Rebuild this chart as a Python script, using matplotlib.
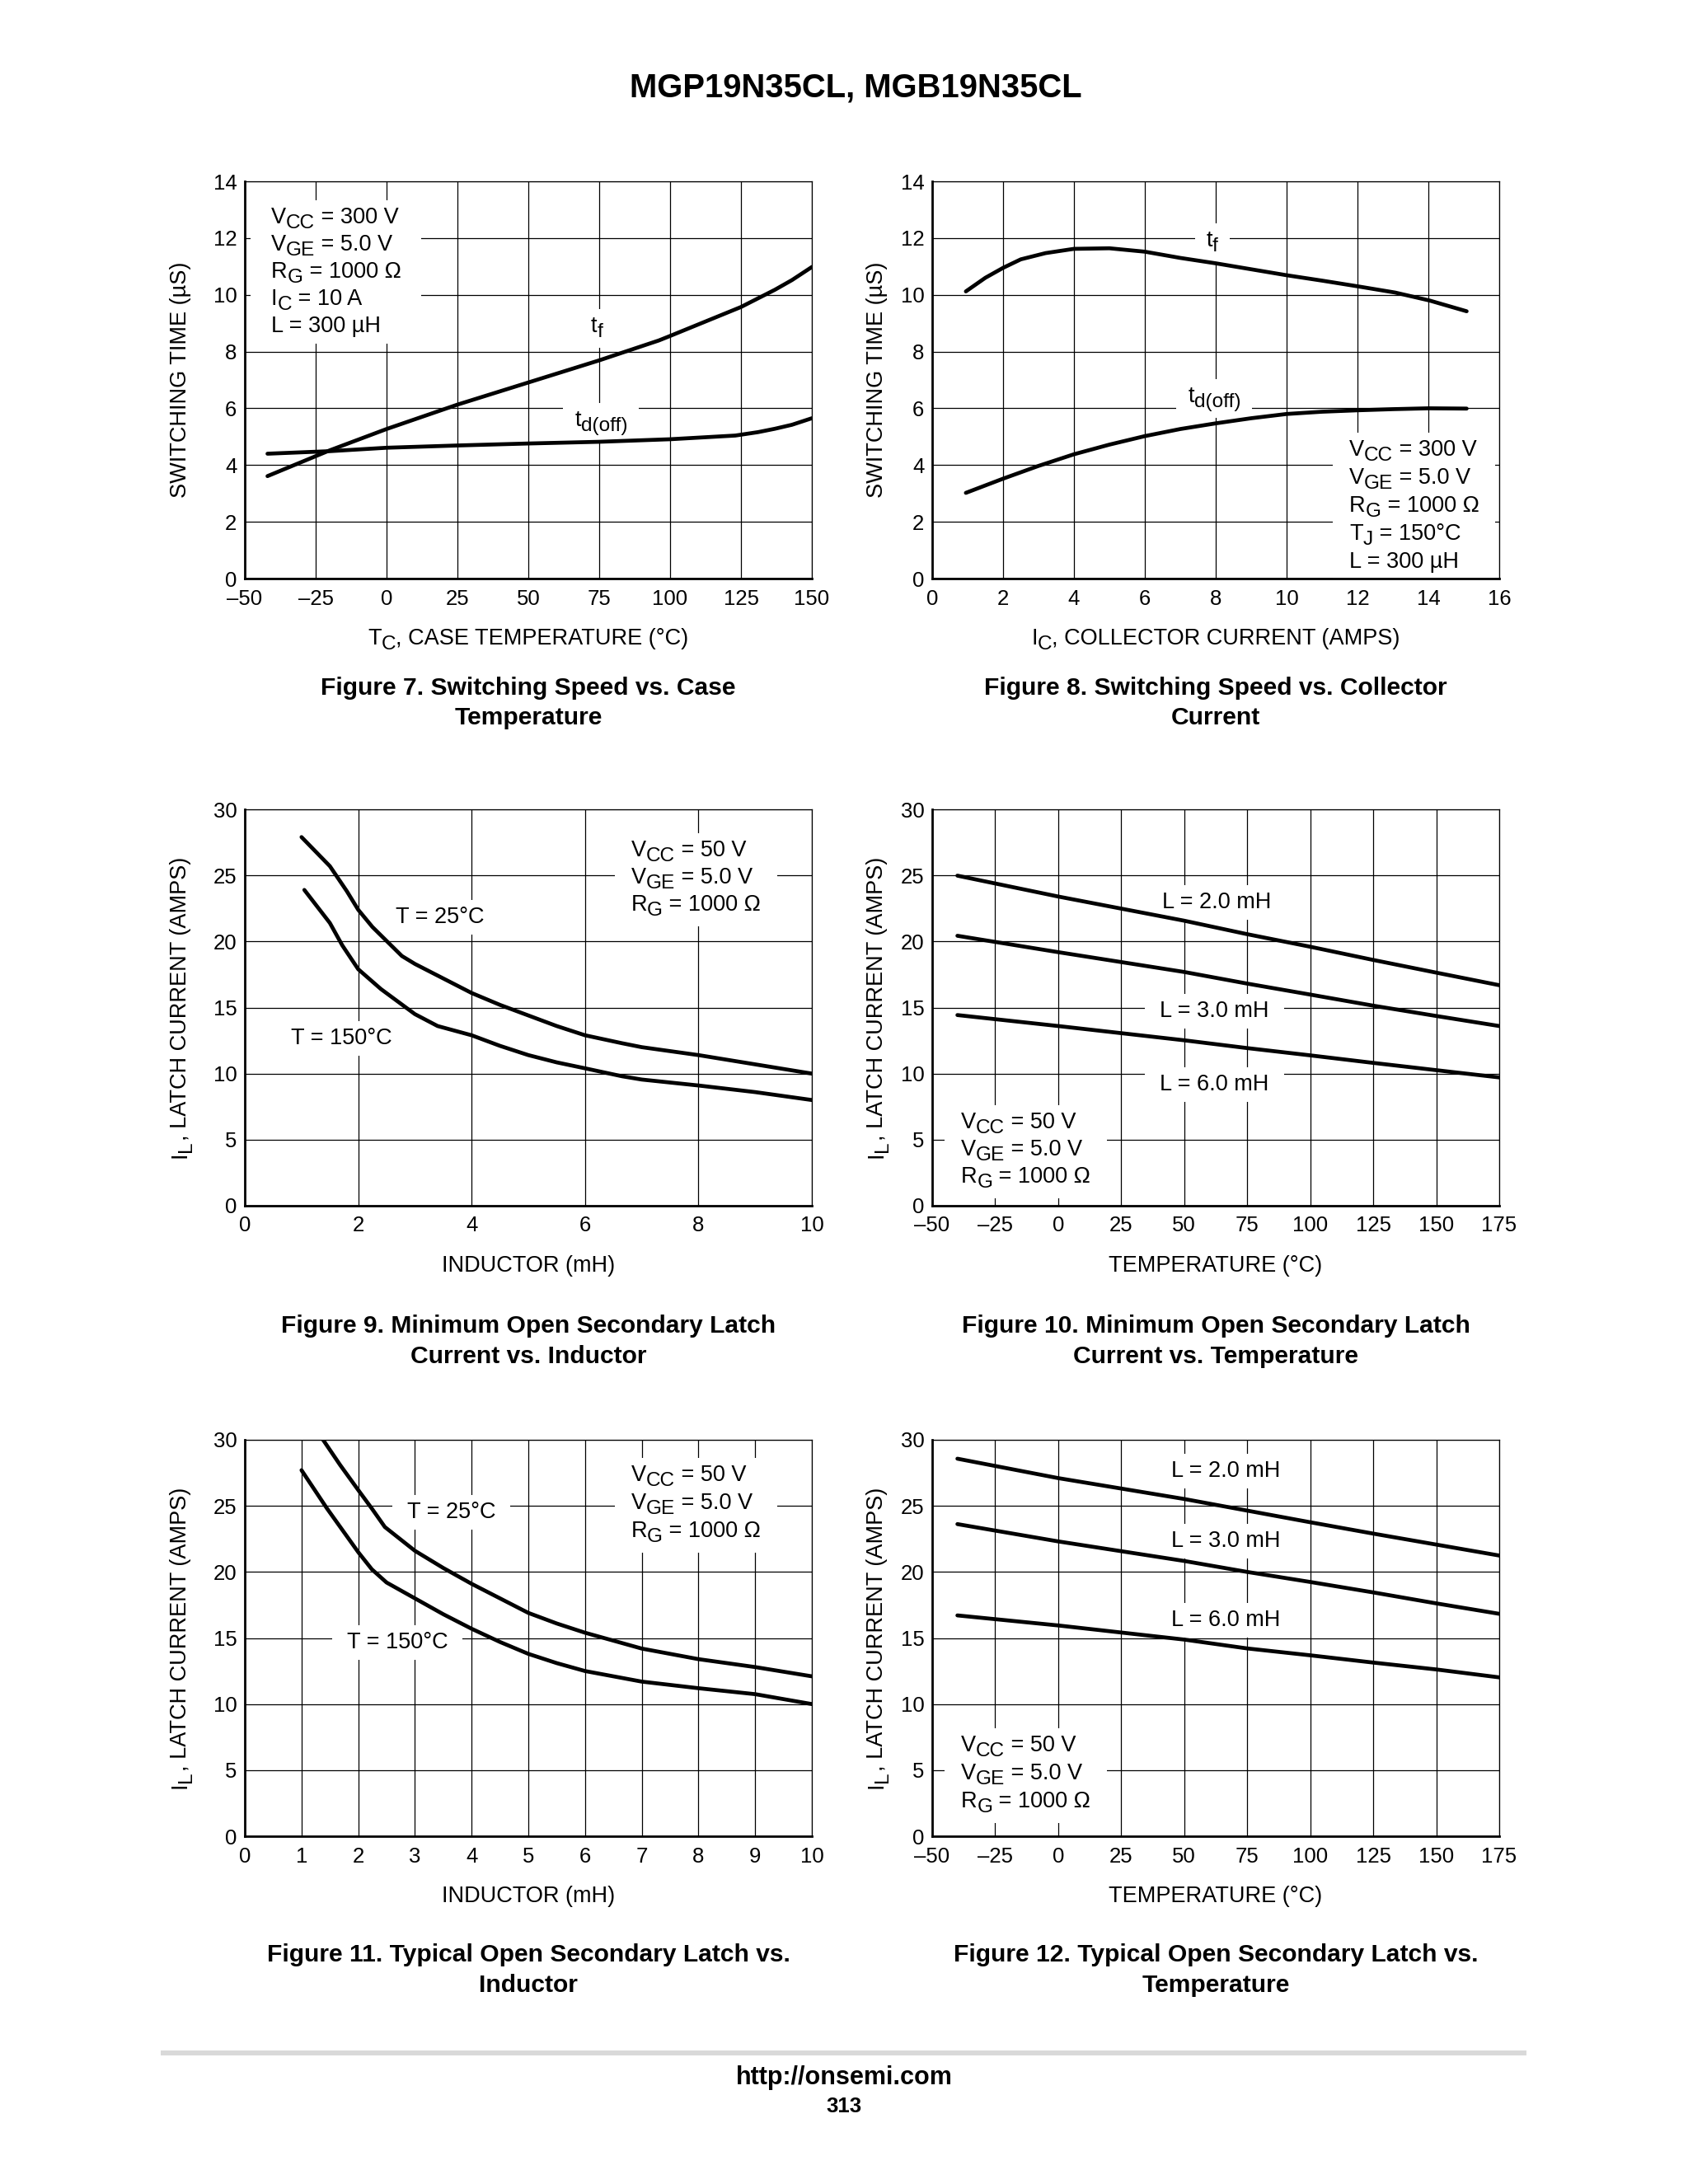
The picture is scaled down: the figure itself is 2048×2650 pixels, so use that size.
import matplotlib
matplotlib.use("Agg")
import matplotlib.pyplot as plt
from matplotlib.transforms import IdentityTransform
from matplotlib.patches import Rectangle
from matplotlib.lines import Line2D

plt.rcParams['font.family'] = ['Liberation Sans', 'DejaVu Sans']
plt.rcParams['mathtext.default'] = 'regular'

# ------------------------------------------------------------------ data
# Figure 7 : switching time vs case temperature
fig7_tf_x = [-42, -20, 0, 25, 50, 75, 96, 100, 125, 137, 143, 150]
fig7_tf_y = [3.61, 4.52, 5.27, 6.13, 6.91, 7.69, 8.39, 8.55, 9.57, 10.18, 10.52, 10.98]
fig7_td_x = [-42, -20, 0, 25, 50, 75, 100, 123, 131, 137, 143, 150]
fig7_td_y = [4.40, 4.49, 4.61, 4.69, 4.76, 4.82, 4.91, 5.04, 5.16, 5.28, 5.42, 5.65]

# Figure 8 : switching time vs collector current
fig8_tf_x = [0.95, 1.5, 2.0, 2.5, 3.2, 4.0, 5.0, 6.0, 7.0, 8.0, 9.0, 10.0, 11.0, 12.0, 13.06, 14.03, 15.08]
fig8_tf_y = [10.12, 10.6, 10.95, 11.25, 11.47, 11.62, 11.64, 11.52, 11.3, 11.11, 10.9, 10.69, 10.5, 10.3, 10.08, 9.8, 9.42]
fig8_td_x = [0.95, 2.0, 3.0, 4.0, 5.0, 6.0, 7.0, 8.0, 9.0, 10.0, 11.0, 12.0, 13.0, 14.0, 15.08]
fig8_td_y = [3.02, 3.52, 3.97, 4.38, 4.72, 5.02, 5.27, 5.47, 5.65, 5.8, 5.88, 5.93, 5.97, 6.0, 5.99]

# Figure 9 : minimum latch current vs inductor
fig9_t25_x = [1.0, 1.5, 1.8, 2.0, 2.25, 2.77, 3.0, 3.5, 4.0, 4.5, 5.0, 5.5, 6.0, 6.65, 7.0, 8.0, 9.0, 10.0]
fig9_t25_y = [27.9, 25.7, 23.8, 22.4, 21.1, 18.9, 18.3, 17.2, 16.1, 15.2, 14.4, 13.6, 12.9, 12.3, 12.0, 11.4, 10.7, 10.0]
fig9_t150_x = [1.05, 1.5, 1.72, 2.0, 2.4, 3.0, 3.4, 4.0, 4.5, 5.0, 5.5, 6.0, 6.65, 7.0, 8.0, 9.0, 10.0]
fig9_t150_y = [23.9, 21.4, 19.7, 17.9, 16.4, 14.5, 13.6, 12.9, 12.1, 11.4, 10.85, 10.4, 9.8, 9.55, 9.1, 8.6, 8.0]

# Figure 10 : minimum latch current vs temperature
fig10_x = [-40, 0, 50, 75, 100, 125, 150, 175]
fig10_l2 = [24.98, 23.4, 21.57, 20.55, 19.6, 18.6, 17.64, 16.69]
fig10_l3 = [20.43, 19.19, 17.69, 16.81, 15.98, 15.14, 14.36, 13.6]
fig10_l6 = [14.43, 13.6, 12.52, 11.93, 11.38, 10.81, 10.26, 9.71]

# Figure 11 : typical latch current vs inductor
fig11_t25_x = [1.38, 1.68, 2.0, 2.24, 2.47, 3.0, 3.5, 4.0, 4.5, 5.0, 5.5, 6.0, 7.0, 8.0, 9.0, 10.0]
fig11_t25_y = [30.0, 28.1, 26.2, 24.8, 23.4, 21.6, 20.3, 19.1, 18.0, 16.9, 16.1, 15.4, 14.2, 13.4, 12.8, 12.1]
fig11_t150_x = [1.0, 1.45, 2.0, 2.24, 2.5, 3.0, 3.5, 4.0, 4.5, 5.0, 5.5, 6.0, 7.0, 8.0, 9.0, 10.0]
fig11_t150_y = [27.7, 24.8, 21.5, 20.2, 19.2, 18.0, 16.8, 15.7, 14.7, 13.8, 13.1, 12.5, 11.7, 11.2, 10.75, 10.0]

# Figure 12 : typical latch current vs temperature
fig12_x = [-40, 0, 50, 75, 100, 125, 150, 175]
fig12_l2 = [28.57, 27.1, 25.52, 24.64, 23.76, 22.9, 22.07, 21.24]
fig12_l3 = [23.62, 22.31, 20.83, 20.0, 19.24, 18.45, 17.62, 16.83]
fig12_l6 = [16.71, 15.95, 14.88, 14.21, 13.69, 13.14, 12.62, 12.02]

# axis ticks
temp_ticks_a = [-50, -25, 0, 25, 50, 75, 100, 125, 150]
temp_ticks_b = [-50, -25, 0, 25, 50, 75, 100, 125, 150, 175]
ic_ticks = [0, 2, 4, 6, 8, 10, 12, 14, 16]
ind_ticks_a = [0, 2, 4, 6, 8, 10]
ind_ticks_b = [0, 1, 2, 3, 4, 5, 6, 7, 8, 9, 10]
time_ticks = [0, 2, 4, 6, 8, 10, 12, 14]
cur_ticks = [0, 5, 10, 15, 20, 25, 30]

title_text = "MGP19N35CL, MGB19N35CL"
captions = [
    ("Figure 7. Switching Speed vs. Case", "Temperature"),
    ("Figure 8. Switching Speed vs. Collector", "Current"),
    ("Figure 9. Minimum Open Secondary Latch", "Current vs. Inductor"),
    ("Figure 10. Minimum Open Secondary Latch", "Current vs. Temperature"),
    ("Figure 11. Typical Open Secondary Latch vs.", "Inductor"),
    ("Figure 12. Typical Open Secondary Latch vs.", "Temperature"),
]

# ------------------------------------------------------------------ setup
W, H, DPI = 2048, 2650, 100
fig = plt.figure(figsize=(W / DPI, H / DPI), dpi=DPI)
fig.patch.set_facecolor('white')
R = fig.canvas.get_renderer()
ID = IdentityTransform()


def pt2px(p):
    return p * DPI / 72.0


def tlabel(v):
    return ("\u2013" + str(-v)) if v < 0 else str(v)


_meas = fig.text(0, 0, "", alpha=0)


def measure(s, fs, weight='normal'):
    _meas.set_fontsize(fs)
    _meas.set_fontweight(weight)
    _meas.set_text("|" + s + "|")
    w1 = _meas.get_window_extent(R).width
    _meas.set_text("||")
    w2 = _meas.get_window_extent(R).width
    return w1 - w2


def rich(host, X, Y, parts, size=19, ha='left', rot=0, weight='normal', sub_scale=0.9):
    """X, Y in output pixels (origin bottom-left). Y = centre of capitals."""
    cap = 0.716 * pt2px(size)
    drop = 0.22 * pt2px(size)
    widths = []
    for s, sub in parts:
        fs = size * sub_scale if sub else size
        widths.append(measure(s, fs, weight))
    total = sum(widths)
    cur = -total / 2 if ha == 'center' else 0.0
    texts = []
    for (s, sub), w in zip(parts, widths):
        fs = size * sub_scale if sub else size
        if rot == 0:
            x = X + cur
            y = Y - cap / 2 - (drop if sub else 0)
        else:
            x = X + cap / 2 + (drop if sub else 0)
            y = Y + cur
        t = host.text(x, y, s, fontsize=fs, transform=ID, ha='left', va='baseline',
                      rotation=rot, rotation_mode='anchor', zorder=6,
                      fontweight=weight, color='black')
        texts.append(t)
        cur += w
    return texts


def block(ax, x, y, lines, size=19.5, spacing=33, ha='left', padx=18, pady=8):
    X, Y = ax.transData.transform((x, y))
    allt = []
    for i, parts in enumerate(lines):
        allt += rich(ax, X, Y - i * spacing, parts, size, ha)
    bbs = [t.get_window_extent(R) for t in allt]
    x0 = min(b.x0 for b in bbs) - padx
    x1 = max(b.x1 for b in bbs) + padx
    y0 = min(b.y0 for b in bbs) - pady
    y1 = max(b.y1 for b in bbs) + pady
    ax.add_patch(Rectangle((x0, y0), x1 - x0, y1 - y0, transform=ID,
                           facecolor='white', edgecolor='none', zorder=1))


COLS = [(297, 985), (1131, 1819)]
ROWS = [(220, 702), (982, 1463), (1747, 2228)]
YLAB_X = [216, 1061]


def make_axes(col, row, xlim, xticks, ylim, yticks, xlab, ylab):
    l, r = COLS[col]
    t, b = ROWS[row]
    ax = fig.add_axes([l / W, 1 - b / H, (r - l) / W, (b - t) / H])
    ax.set_xlim(xlim)
    ax.set_ylim(ylim)
    ax.set_xticks(xticks)
    ax.set_xticklabels([tlabel(v) for v in xticks])
    ax.set_yticks(yticks)
    ax.set_yticklabels([tlabel(v) for v in yticks])
    ax.tick_params(length=0, labelsize=18.5, colors='black')
    ax.tick_params(axis='x', pad=9)
    ax.tick_params(axis='y', pad=7)
    ax.grid(True, color='black', lw=0.9)
    ax.set_axisbelow(True)
    for s in ['top', 'right']:
        ax.spines[s].set_linewidth(0.9)
    for s in ['left', 'bottom']:
        ax.spines[s].set_linewidth(2.0)
    # axis titles
    rich(fig, (l + r) / 2, H - (b + 70), xlab, size=19.5, ha='center')
    rich(fig, YLAB_X[col], H - (t + b) / 2, ylab, size=19.5, ha='center', rot=90)
    return ax


def curve(ax, x, y):
    ax.plot(x, y, color='black', lw=3.4, solid_capstyle='round',
            solid_joinstyle='round', zorder=3)


SW = [("SWITCHING TIME (\u00b5S)", 0)]
IL = [("I", 0), ("L", 1), (", LATCH CURRENT (AMPS)", 0)]
TEMP = [("TEMPERATURE (\u00b0C)", 0)]
IND = [("INDUCTOR (mH)", 0)]

# ---------------- Figure 7
ax7 = make_axes(0, 0, (-50, 150), temp_ticks_a, (0, 14), time_ticks,
                [("T", 0), ("C", 1), (", CASE TEMPERATURE (\u00b0C)", 0)], SW)
curve(ax7, fig7_tf_x, fig7_tf_y)
curve(ax7, fig7_td_x, fig7_td_y)
block(ax7, -40.7, 12.81, [
    [("V", 0), ("CC", 1), (" = 300 V", 0)],
    [("V", 0), ("GE", 1), (" = 5.0 V", 0)],
    [("R", 0), ("G", 1), (" = 1000 \u03a9", 0)],
    [("I", 0), ("C", 1), (" = 10 A", 0)],
    [("L = 300 \u00b5H", 0)],
], padx=25)
block(ax7, 74.2, 8.96, [[("t", 0), ("f", 1)]], ha='center', padx=14)
block(ax7, 75.7, 5.65, [[("t", 0), ("d(off)", 1)]], ha='center', padx=14)

# ---------------- Figure 8
ax8 = make_axes(1, 0, (0, 16), ic_ticks, (0, 14), time_ticks,
                [("I", 0), ("C", 1), (", COLLECTOR CURRENT (AMPS)", 0)], SW)
curve(ax8, fig8_tf_x, fig8_tf_y)
curve(ax8, fig8_td_x, fig8_td_y)
block(ax8, 11.77, 4.6, [
    [("V", 0), ("CC", 1), (" = 300 V", 0)],
    [("V", 0), ("GE", 1), (" = 5.0 V", 0)],
    [("R", 0), ("G", 1), (" = 1000 \u03a9", 0)],
    [("T", 0), ("J", 1), (" = 150\u00b0C", 0)],
    [("L = 300 \u00b5H", 0)],
], spacing=34, padx=20)
block(ax8, 7.9, 11.99, [[("t", 0), ("f", 1)]], ha='center', padx=14)
block(ax8, 7.96, 6.49, [[("t", 0), ("d(off)", 1)]], ha='center', padx=14)

COND50 = [
    [("V", 0), ("CC", 1), (" = 50 V", 0)],
    [("V", 0), ("GE", 1), (" = 5.0 V", 0)],
    [("R", 0), ("G", 1), (" = 1000 \u03a9", 0)],
]

# ---------------- Figure 9
ax9 = make_axes(0, 1, (0, 10), ind_ticks_a, (0, 30), cur_ticks, IND, IL)
curve(ax9, fig9_t25_x, fig9_t25_y)
curve(ax9, fig9_t150_x, fig9_t150_y)
block(ax9, 6.81, 27.07, COND50, padx=20)
block(ax9, 3.44, 22.0, [[("T = 25\u00b0C", 0)]], ha='center')
block(ax9, 1.70, 12.8, [[("T = 150\u00b0C", 0)]], ha='center')

# ---------------- Figure 10
ax10 = make_axes(1, 1, (-50, 175), temp_ticks_b, (0, 30), cur_ticks, TEMP, IL)
curve(ax10, fig10_x, fig10_l2)
curve(ax10, fig10_x, fig10_l3)
curve(ax10, fig10_x, fig10_l6)
block(ax10, 63.0, 23.15, [[("L = 2.0 mH", 0)]], ha='center')
block(ax10, 62.0, 14.9, [[("L = 3.0 mH", 0)]], ha='center')
block(ax10, 62.0, 9.34, [[("L = 6.0 mH", 0)]], ha='center')
block(ax10, -38.6, 6.47, COND50, padx=20)

# ---------------- Figure 11
ax11 = make_axes(0, 2, (0, 10), ind_ticks_b, (0, 30), cur_ticks, IND, IL)
curve(ax11, fig11_t25_x, fig11_t25_y)
curve(ax11, fig11_t150_x, fig11_t150_y)
block(ax11, 6.81, 27.5, COND50, spacing=34, padx=20)
block(ax11, 3.64, 24.65, [[("T = 25\u00b0C", 0)]], ha='center')
block(ax11, 2.69, 14.8, [[("T = 150\u00b0C", 0)]], ha='center')

# ---------------- Figure 12
ax12 = make_axes(1, 2, (-50, 175), temp_ticks_b, (0, 30), cur_ticks, TEMP, IL)
curve(ax12, fig12_x, fig12_l2)
curve(ax12, fig12_x, fig12_l3)
curve(ax12, fig12_x, fig12_l6)
block(ax12, 66.6, 27.8, [[("L = 2.0 mH", 0)]], ha='center')
block(ax12, 66.6, 22.5, [[("L = 3.0 mH", 0)]], ha='center')
block(ax12, 66.6, 16.5, [[("L = 6.0 mH", 0)]], ha='center')
block(ax12, -38.6, 7.0, COND50, spacing=34, padx=20)

# ---------------- captions, title, footer
CAP_Y = [(832, 868), (1606, 1643), (2369, 2406)]
for i, (l1, l2) in enumerate(captions):
    col, row = i % 2, i // 2
    cx = (COLS[col][0] + COLS[col][1]) / 2
    y1, y2 = CAP_Y[row]
    rich(fig, cx, H - y1, [(l1, 0)], size=21.6, ha='center', weight='bold')
    rich(fig, cx, H - y2, [(l2, 0)], size=21.6, ha='center', weight='bold')

rich(fig, 1038, H - 103, [(title_text, 0)], size=28.8, ha='center', weight='bold')
fig.add_artist(Line2D([198, 1849], [H - 2491, H - 2491], transform=ID,
                      color='#d9d9d9', lw=6 * 72 / DPI))
rich(fig, 1024, H - 2518, [("http://onsemi.com", 0)], size=22, ha='center', weight='bold')
rich(fig, 1024, H - 2554, [("313", 0)], size=18.5, ha='center', weight='bold')

fig.savefig("out.png", dpi=DPI, facecolor='white')
